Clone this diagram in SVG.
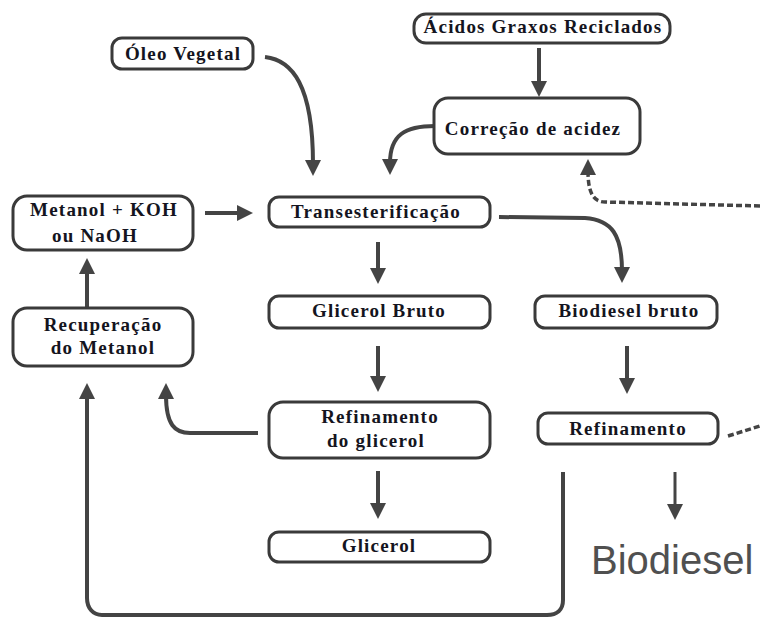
<svg xmlns="http://www.w3.org/2000/svg" width="761" height="618" viewBox="0 0 761 618">
<style>
.box{fill:#fff;stroke:#3a3a3a;stroke-width:3}
.c{fill:none;stroke:#444;stroke-width:4}
.thin{stroke-width:3}
.d{stroke-dasharray:6 3;stroke-width:3.5}
</style>
<defs>
<marker id="ah" viewBox="0 0 16 16" markerWidth="16" markerHeight="16" markerUnits="userSpaceOnUse" refX="4" refY="8" orient="auto">
<path d="M0,0 L16,8 L0,16 z" fill="#444"/>
</marker>
</defs>
<rect width="761" height="618" fill="#fff"/>
<g id="connectors">
<path class="c" d="M265,57 C292,60 313,85 313,164" marker-end="url(#ah)"/>
<path class="c" d="M539,48 L539,85" marker-end="url(#ah)"/>
<path class="c" d="M435,126 C405,126 390,135 390,163" marker-end="url(#ah)"/>
<path class="c" d="M205,213 L241,213" marker-end="url(#ah)"/>
<path class="c" d="M499,217 L585,218 C612,220 622,235 622,271" marker-end="url(#ah)"/>
<path class="c" d="M378,242 L378,272" marker-end="url(#ah)"/>
<path class="c" d="M378,346 L378,380" marker-end="url(#ah)"/>
<path class="c" d="M378,471 L378,507" marker-end="url(#ah)"/>
<path class="c" d="M627,346 L627,382" marker-end="url(#ah)"/>
<path class="c thin" d="M675,472 L675,508" marker-end="url(#ah)"/>
<path class="c" d="M258,433 L190,433 C175,433 166,425 166,395" marker-end="url(#ah)"/>
<path class="c" d="M563,472 L563,600 C563,610 557,615 547,615 L102,615 C93,615 87,608 87,598 L87,395" marker-end="url(#ah)"/>
<path class="c" d="M87,307 L87,270" marker-end="url(#ah)"/>
<path class="c d" d="M760,206 L605,202 C593,202 588,192 588,171" marker-end="url(#ah)"/>
<path class="c d" d="M728,436 L760,426"/>
</g>
<g font-family="Liberation Serif, Times New Roman, serif" font-weight="bold" font-size="19" letter-spacing="1.2" fill="#141420" text-anchor="middle">
<g id="oleo"><rect class="box" x="112" y="38" width="141" height="31" rx="10"/><text x="183" y="60">Óleo Vegetal</text></g>
<g id="acidos"><rect class="box" x="414" y="14" width="256" height="29" rx="12"/><text x="543" y="33">Ácidos Graxos Reciclados</text></g>
<g id="correcao"><rect class="box" x="434" y="98" width="206" height="56" rx="14"/><text x="533" y="135">Correção de acidez</text></g>
<g id="trans"><rect class="box" x="269" y="197" width="221" height="30" rx="10"/><text x="376" y="218">Transesterificação</text></g>
<g id="metanol"><rect class="box" x="13" y="196" width="180" height="54" rx="14"/><text x="104" y="216">Metanol + KOH</text><text x="95" y="242">ou NaOH</text></g>
<g id="recuperacao"><rect class="box" x="13" y="308" width="180" height="58" rx="14"/><text x="103" y="331">Recuperação</text><text x="103" y="354">do Metanol</text></g>
<g id="glicerolbruto"><rect class="box" x="269" y="296" width="221" height="32" rx="10"/><text x="379" y="317">Glicerol Bruto</text></g>
<g id="refglicerol"><rect class="box" x="269" y="402" width="221" height="56" rx="14"/><text x="380" y="423">Refinamento</text><text x="376" y="447">do glicerol</text></g>
<g id="glicerol"><rect class="box" x="269" y="532" width="221" height="30" rx="10"/><text x="379" y="552">Glicerol</text></g>
<g id="biodieselbruto"><rect class="box" x="535" y="296" width="182" height="32" rx="10"/><text x="629" y="317">Biodiesel bruto</text></g>
<g id="refinamento"><rect class="box" x="538" y="413" width="180" height="31" rx="10"/><text x="628" y="435">Refinamento</text></g>
</g>
<g id="biodiesel"><text x="591" y="574" font-family="Liberation Sans, Arial, sans-serif" font-size="40" fill="#505050">Biodiesel</text></g>
</svg>
